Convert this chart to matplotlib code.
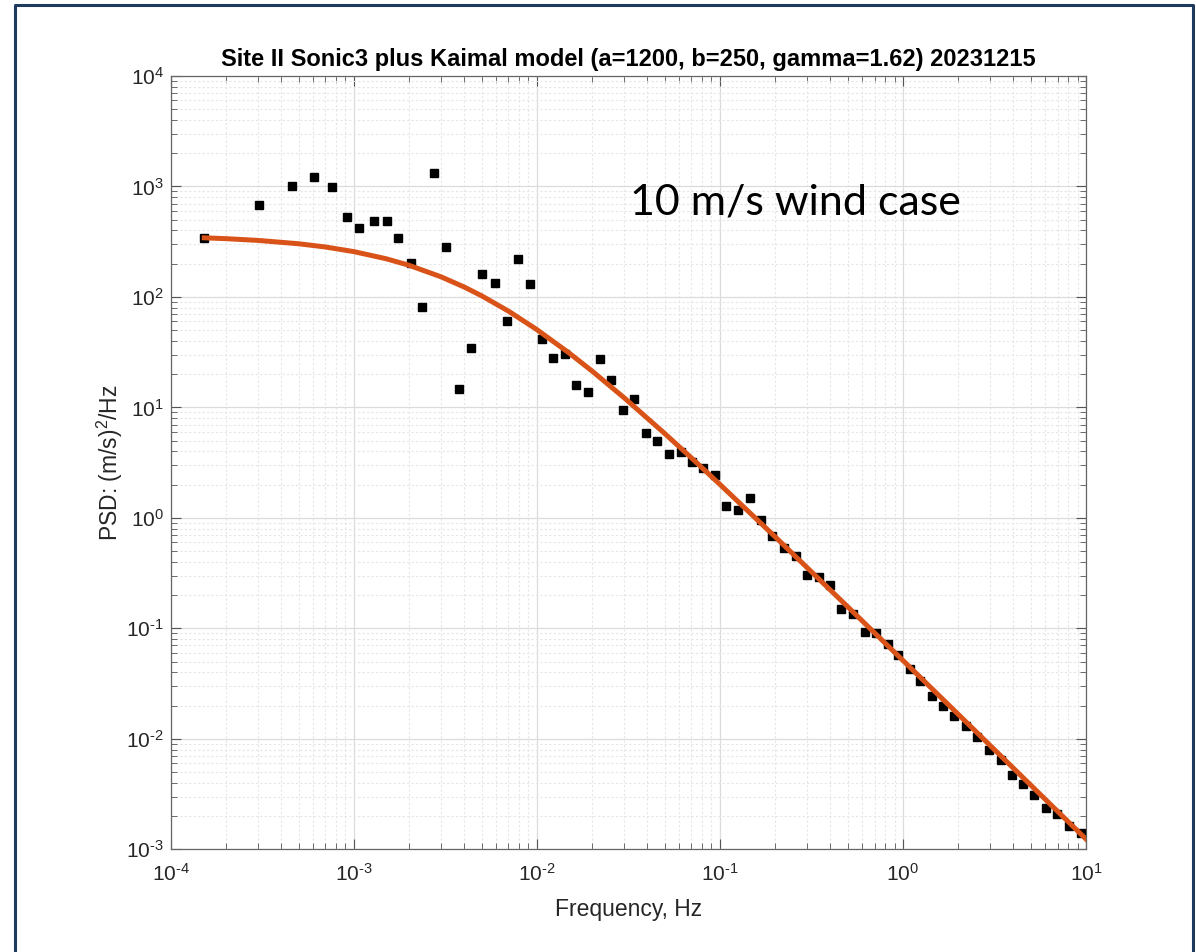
import matplotlib
matplotlib.use("Agg")
import matplotlib.pyplot as plt
from matplotlib.lines import Line2D
from matplotlib.ticker import LogLocator, NullFormatter, FixedLocator, FuncFormatter
import numpy as np

freq = [1.526e-4, 3.048e-4, 4.581e-4, 6.087e-4, 7.605e-4, 9.15e-4, 1.068e-3,
        1.295e-3, 1.525e-3, 1.751e-3, 2.055e-3, 2.368e-3, 2.743e-3, 3.202e-3,
        3.756e-3, 4.353e-3, 5.039e-3, 5.887e-3, 6.85e-3, 7.89e-3, 9.145e-3,
        1.063e-2, 1.230e-2, 1.425e-2, 1.637e-2, 1.896e-2, 2.205e-2, 2.542e-2,
        2.944e-2, 3.408e-2, 3.937e-2, 4.558e-2, 5.275e-2, 6.1e-2, 7.035e-2,
        8.139e-2, 9.382e-2, 0.1086, 0.1256, 0.1453, 0.1675, 0.1938, 0.2246,
        0.2598, 0.3007, 0.3466, 0.401, 0.4618, 0.5349, 0.6189, 0.7161, 0.8258,
        0.9434, 1.090, 1.239, 1.436, 1.655, 1.909, 2.211, 2.548, 2.964, 3.420,
        3.928, 4.510, 5.220, 6.045, 6.968, 8.045, 9.357]
psd = [339.6, 675.2, 1010, 1218, 989, 526, 418,
       490, 490, 343.8, 201.6, 80.6, 1316, 283.2,
       14.77, 34.5, 162.3, 132.9, 60.9, 221.9, 130.9,
       41.4, 28.0, 30.3, 15.86, 13.79, 27.6, 17.71,
       9.41, 11.99, 5.84, 4.965, 3.811, 3.923, 3.205,
       2.811, 2.429, 1.281, 1.186, 1.513, 0.9508, 0.6898, 0.534,
       0.4546, 0.3059, 0.2916, 0.2453, 0.1506, 0.134, 0.0933, 0.0902, 0.0726,
       0.0574, 0.0426, 0.0334, 0.0244, 0.01982, 0.0161, 0.01306, 0.01045, 0.00792, 0.00643,
       0.004733, 0.003876, 0.003082, 0.002379, 0.002073, 0.001625, 0.001413]

# Kaimal model curve
model_freq = [1.526e-4, 2e-4, 3e-4, 5e-4, 7e-4, 1e-3, 1.5e-3, 2e-3, 3e-3, 4e-3,
              5e-3, 7e-3, 1e-2, 1.5e-2, 2e-2, 3e-2, 5e-2, 7e-2, 0.1, 0.2,
              0.5, 1.0, 2.0, 5.0, 10.0]
model_psd = [342.7, 336.8, 324.7, 302.8, 283.1, 257.2, 221.7, 193.6, 152.0, 123.2,
             102.3, 74.4, 50.67, 31.11, 21.39, 12.22, 5.796, 3.486, 2.011, 0.6764,
             0.1564, 0.05124, 0.01673, 0.003798, 0.001237]

x_ticks = [1e-4, 1e-3, 1e-2, 1e-1, 1e0, 1e1]
y_ticks = [1e-3, 1e-2, 1e-1, 1e0, 1e1, 1e2, 1e3, 1e4]

plt.rcParams['font.family'] = ['Liberation Sans', 'DejaVu Sans']
plt.rcParams['mathtext.fontset'] = 'custom'
plt.rcParams['mathtext.rm'] = 'Liberation Sans'
plt.rcParams['mathtext.it'] = 'Liberation Sans:italic'
plt.rcParams['mathtext.bf'] = 'Liberation Sans:bold'


def pow_label(v, pos):
    e = int(round(np.log10(v)))
    s = str(e).replace('-', '\u2010')
    return '$\\mathdefault{10^{%s}}$' % s


fig = plt.figure(figsize=(11.96, 9.52), dpi=100)
ax = fig.add_axes([0.1427, 0.1079, 0.7653, 0.8123])

ax.set_xscale('log')
ax.set_yscale('log')
ax.set_xlim(1e-4, 1e1)
ax.set_ylim(1e-3, 1e4)

ax.plot(freq, psd, 's', color='black', markersize=6.4, zorder=3)
ax.plot(model_freq, model_psd, '-', color='#D95319', linewidth=3.6, zorder=4)

ax.xaxis.set_major_locator(FixedLocator(x_ticks))
ax.yaxis.set_major_locator(FixedLocator(y_ticks))
ax.xaxis.set_major_formatter(FuncFormatter(pow_label))
ax.yaxis.set_major_formatter(FuncFormatter(pow_label))
ax.xaxis.set_minor_locator(LogLocator(base=10, subs=range(2, 10), numticks=100))
ax.yaxis.set_minor_locator(LogLocator(base=10, subs=range(2, 10), numticks=100))
ax.xaxis.set_minor_formatter(NullFormatter())
ax.yaxis.set_minor_formatter(NullFormatter())

ax.grid(True, which='major', color='#dcdcdc', linewidth=0.9, linestyle='-')
ax.grid(True, which='minor', color='#e6e6e6', linewidth=0.8, linestyle=(0, (2, 2)))
ax.set_axisbelow(True)

ax.tick_params(which='both', direction='in', top=True, right=True,
               colors='#555555', labelcolor='#262626', labelsize=15)
ax.tick_params(which='major', length=7, width=0.8)
ax.tick_params(which='minor', length=4, width=0.6)
ax.tick_params(axis='x', which='major', pad=10)
ax.tick_params(axis='y', which='major', pad=5)
for s in ax.spines.values():
    s.set_color('#666666')
    s.set_linewidth(0.9)

ax.set_title('Site II Sonic3 plus Kaimal model (a=1200, b=250, gamma=1.62) 20231215',
             fontsize=17, fontweight='bold', pad=7)
ax.set_xlabel('Frequency, Hz', fontsize=16.5, color='#262626', labelpad=9)
ax.set_ylabel('PSD: (m/s)$^2$/Hz', fontsize=16.5, color='#262626', labelpad=1)

ax.text(0.5018, 0.8203, '10 m/s wind case', transform=ax.transAxes,
        fontsize=31, family=['Lato', 'DejaVu Sans'], ha='left', va='baseline')

# frame around the slide (left, top, right edges)
fx = [15 / 1196, 15 / 1196, 1193 / 1196, 1193 / 1196]
fy = [0.0, 1 - 5 / 952, 1 - 5 / 952, 0.0]
fig.add_artist(Line2D(fx, fy, transform=fig.transFigure, color='#1f3a5f', linewidth=2.2))

fig.savefig('out.png', dpi=100)
